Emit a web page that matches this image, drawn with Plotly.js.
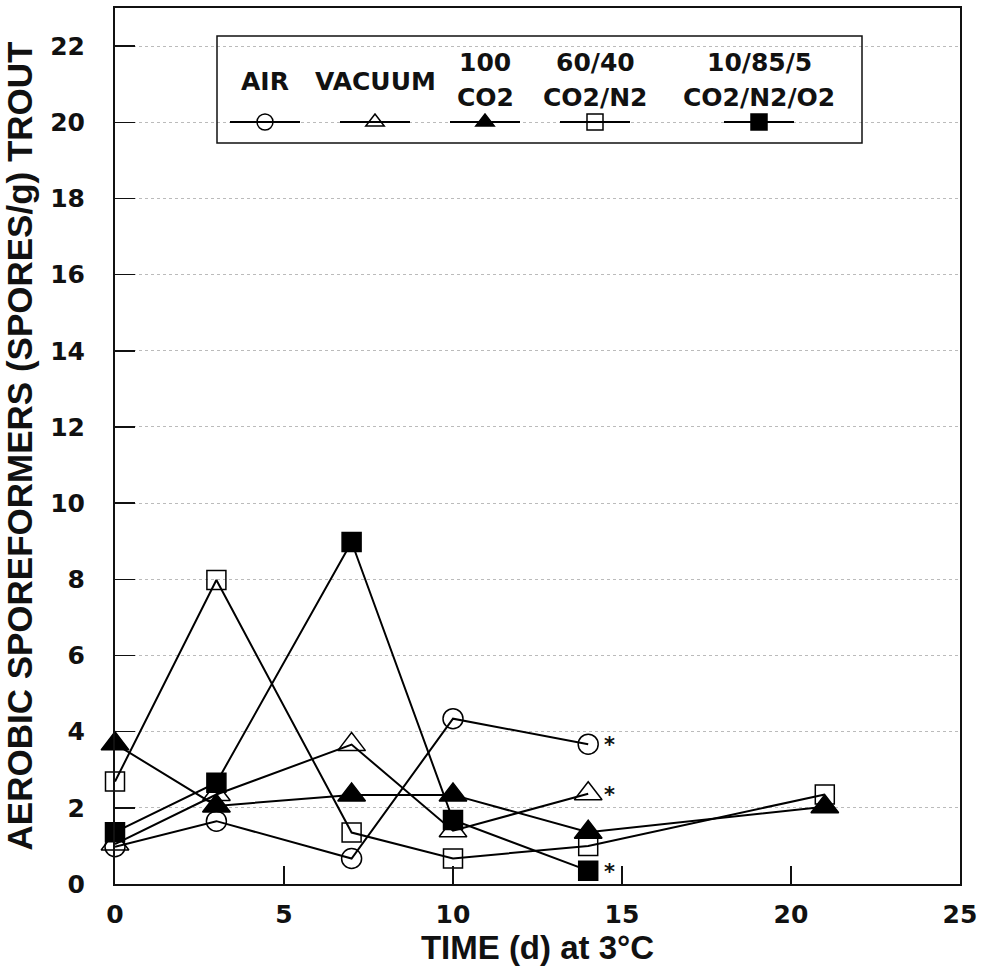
<!DOCTYPE html>
<html><head><meta charset="utf-8">
<script src="https://cdn.plot.ly/plotly-3.0.1.min.js"></script>
<style>html,body{margin:0;padding:0;background:#fff}#chart{width:981px;height:973px}</style>
</head><body><div id="chart"></div>
<script>
// ---- data ----
const seriesNames = ['AIR', 'VACUUM', '100 CO2', '60/40 CO2/N2', '10/85/5 CO2/N2/O2'];
const legendTop = ['', '', '100', '60/40', '10/85/5'];
const legendBottom = ['AIR', 'VACUUM', 'CO2', 'CO2/N2', 'CO2/N2/O2'];
const daysAir = [0, 3, 7, 10, 14];
const air = [0.98, 1.65, 0.67, 4.34, 3.67];
const daysVacuum = [0, 3, 7, 10, 14];
const vacuum = [1.05, 2.35, 3.66, 1.40, 2.37];
const daysCO2 = [0, 3, 7, 10, 14, 21];
const co2 = [3.68, 2.05, 2.34, 2.34, 1.36, 2.03];
const daysCO2N2 = [0, 3, 7, 10, 14, 21];
const co2n2 = [2.69, 7.98, 1.35, 0.67, 1.00, 2.35];
const daysCO2N2O2 = [0, 3, 7, 10, 14];
const co2n2o2 = [1.36, 2.66, 8.98, 1.68, 0.35];
const flagged = [true, true, false, false, true];   // asterisk after last value
const xTicks = [0, 5, 10, 15, 20, 25];
const yTicks = [0, 2, 4, 6, 8, 10, 12, 14, 16, 18, 20, 22];
const xTitle = 'TIME (d) at 3°C';
const yTitle = 'AEROBIC SPOREFORMERS (SPORES/g) TROUT';

// ---- styling / layout ----
const W = 981, H = 973;
const M = {l: 115, r: 21, t: 8, b: 89};
const PW = W - M.l - M.r, PH = H - M.t - M.b;
const px2x = p => (p - M.l) / PW;
const px2y = p => (H - M.b - p) / PH;

const xs = [daysAir, daysVacuum, daysCO2, daysCO2N2, daysCO2N2O2];
const ys = [air, vacuum, co2, co2n2, co2n2o2];
const symbols = ['circle-open', 'triangle-up-open', 'triangle-up', 'square-open', 'square'];
const sizes = [20, 24, 24, 19, 19];
const legendCentersPx = [265, 375, 485, 595, 759];
const legendLinePx = 122;
const legendItemW = 70;
const drawOrder = [3, 0, 1, 4, 2];
const legendKeys = ['legend', 'legend2', 'legend3', 'legend4', 'legend5'];

const traces = drawOrder.map(i => ({
  type: 'scatter', mode: 'lines+markers',
  x: xs[i], y: ys[i], name: ' ',
  legend: legendKeys[i],
  line: {color: '#000', width: 2},
  marker: {symbol: symbols[i], size: sizes[i], color: '#000', line: {color: '#000', width: 1.5}},
  cliponaxis: false, hoverinfo: 'x+y'
}));

const tickFont = {family: 'DejaVu Sans', size: 25, color: '#111', weight: 'bold'};
const xTitleFont = {family: 'Liberation Sans', size: 33, color: '#111', weight: 'bold'};
const yTitleFont = {family: 'Liberation Sans', size: 35, color: '#111', weight: 'bold'};
const legFont = {family: 'DejaVu Sans', size: 25, color: '#111', weight: 'bold'};

const annotations = [];
legendTop.forEach((t, i) => {
  const cx = px2x(legendCentersPx[i]);
  if (t) {
    annotations.push({xref: 'paper', yref: 'paper', x: cx, y: px2y(62), text: t, showarrow: false, font: legFont, xanchor: 'center', yanchor: 'middle'});
    annotations.push({xref: 'paper', yref: 'paper', x: cx, y: px2y(98), text: legendBottom[i], showarrow: false, font: legFont, xanchor: 'center', yanchor: 'middle'});
  } else {
    annotations.push({xref: 'paper', yref: 'paper', x: cx, y: px2y(81), text: legendBottom[i], showarrow: false, font: legFont, xanchor: 'center', yanchor: 'middle'});
  }
});
flagged.forEach((f, i) => {
  if (!f) return;
  const n = xs[i].length - 1;
  annotations.push({x: xs[i][n], y: ys[i][n], text: '*', showarrow: false, xshift: 21, yshift: -1,
    font: {family: 'DejaVu Sans', size: 21, color: '#111', weight: 'bold'}});
});

const layout = {
  width: W, height: H, margin: {l: M.l, r: M.r, t: M.t, b: M.b, pad: 0},
  paper_bgcolor: '#fff', plot_bgcolor: '#fff',
  font: {family: 'DejaVu Sans', color: '#111'},
  xaxis: {
    range: [0, 25], tickvals: xTicks, ticktext: xTicks.map(String),
    ticks: 'inside', ticklen: 18, tickwidth: 1.5, tickcolor: '#111',
    showline: true, linewidth: 2, linecolor: '#111', mirror: true,
    showgrid: false, zeroline: false, tickfont: tickFont, ticklabelstandoff: 7,
    title: {text: xTitle, font: xTitleFont, standoff: 8}
  },
  yaxis: {
    range: [0, 23], tickvals: yTicks, ticktext: yTicks.map(String),
    ticks: 'inside', ticklen: 20, tickwidth: 1.5, tickcolor: '#111',
    showline: true, linewidth: 2, linecolor: '#111', mirror: true,
    showgrid: true, gridcolor: '#bbb', griddash: 'dot', gridwidth: 1,
    zeroline: false, tickfont: tickFont, ticklabelstandoff: 23,
    title: {text: yTitle, font: yTitleFont, standoff: 8}
  },
  shapes: [{type: 'rect', xref: 'paper', yref: 'paper', x0: px2x(217), x1: px2x(862), y0: px2y(143), y1: px2y(36),
    line: {color: '#111', width: 1.5}, fillcolor: 'rgba(0,0,0,0)'}],
  annotations: annotations,
  showlegend: true
};
legendKeys.forEach((k, i) => {
  layout[k] = {
    x: px2x(legendCentersPx[i] - legendItemW / 2 - 5), xanchor: 'left', y: px2y(legendLinePx), yanchor: 'middle',
    bgcolor: 'rgba(0,0,0,0)', borderwidth: 0, font: {size: 10}, itemsizing: 'trace', itemclick: false,
    itemwidth: legendItemW
  };
});

Plotly.newPlot('chart', traces, layout, {displayModeBar: false, staticPlot: true});
</script>
</body></html>
